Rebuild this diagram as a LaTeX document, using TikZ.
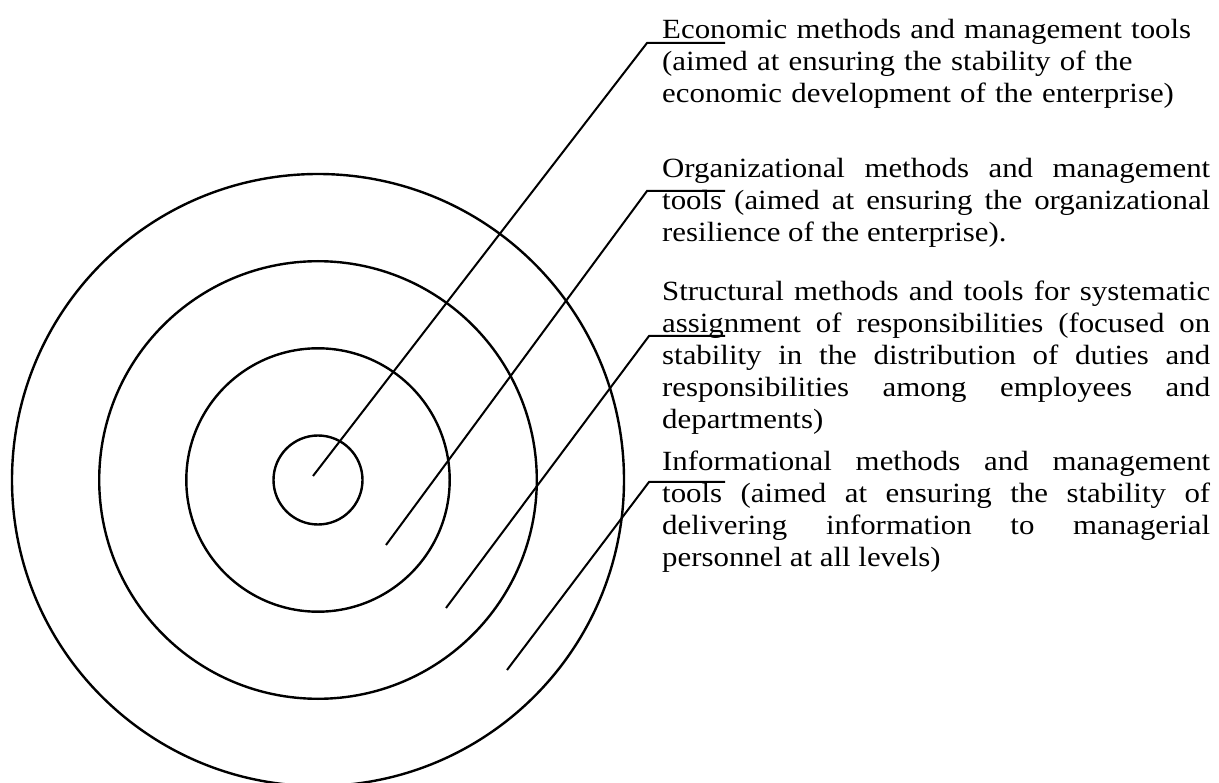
\documentclass[tikz,border=0pt]{standalone}
\usepackage{fontspec}
\setmainfont{Liberation Serif}[FakeStretch=1.11]
\hyphenpenalty=10000
\exhyphenpenalty=10000
\begin{document}
\begin{tikzpicture}[x=1pt,y=-1pt,
  ring/.style={draw, circle, line width=2.4pt, inner sep=0pt},
  leader/.style={line width=2pt, line join=miter},
  txt/.style={anchor=base west, inner sep=0pt, text width=548pt,
    font=\fontsize{27.8pt}{32pt}\selectfont}
]
\useasboundingbox (0,0) rectangle (1219,783);
\coordinate (O) at (318,480);
\node[ring, minimum size=612pt] (r4) at (O) {};
\node[ring, minimum size=437.6pt] (r3) at (O) {};
\node[ring, minimum size=263.4pt] (r2) at (O) {};
\node[ring, minimum size=89pt] (r1) at (O) {};

\coordinate (a1) at (313,476); \coordinate (b1) at (647,43);  \coordinate (c1) at (725,43);
\coordinate (a2) at (386,545); \coordinate (b2) at (647,191); \coordinate (c2) at (725,191);
\coordinate (a3) at (446,608); \coordinate (b3) at (649,336); \coordinate (c3) at (725,336);
\coordinate (a4) at (507,670); \coordinate (b4) at (649,482); \coordinate (c4) at (725,482);
\draw[leader] (a1) -- (b1) -- (c1);
\draw[leader] (a2) -- (b2) -- (c2);
\draw[leader] (a3) -- (b3) -- (c3);
\draw[leader] (a4) -- (b4) -- (c4);

\node[txt, align=left] (t1) at (662,39) {Economic methods and management tools\\(aimed at ensuring the stability of the\\economic development of the enterprise)};
\node[txt, align=justify] (t2) at (662,178) {Organizational methods and management\linebreak tools (aimed at ensuring the organizational\linebreak resilience of the enterprise).};
\node[txt, align=justify] (t3) at (662,301) {Structural methods and tools for systematic\linebreak assignment of responsibilities (focused on\linebreak stability in the distribution of duties and\linebreak responsibilities among employees and\linebreak departments)};
\node[txt, align=justify] (t4) at (662,471) {Informational methods and management\linebreak tools (aimed at ensuring the stability of\linebreak delivering information to managerial\linebreak personnel at all levels)};
\end{tikzpicture}
\end{document}
